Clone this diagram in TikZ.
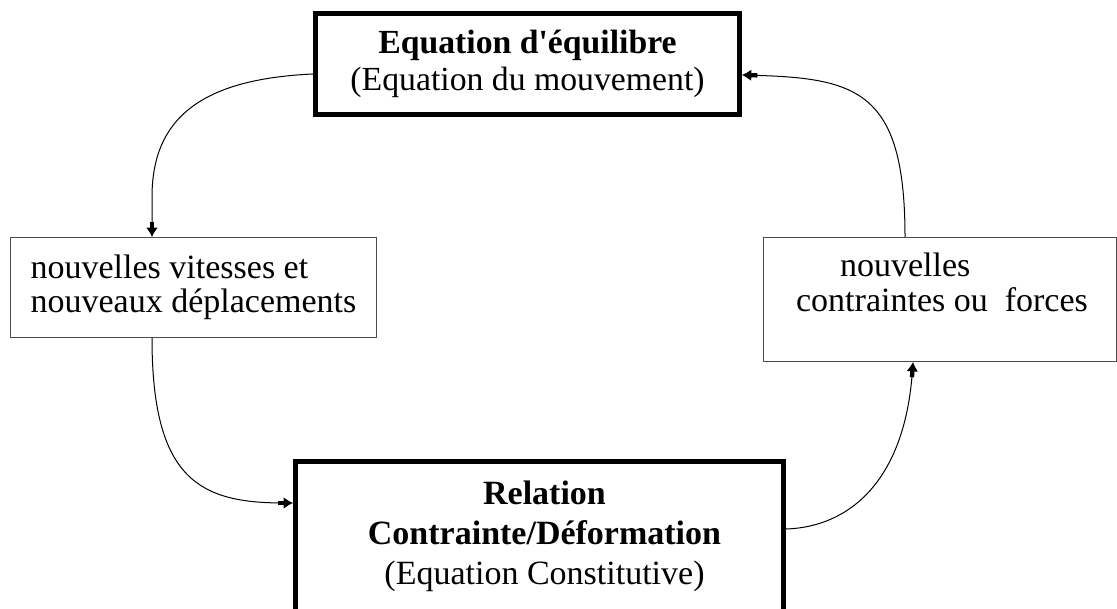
\documentclass[tikz,border=0pt]{standalone}
\usepackage{fontspec}
\setmainfont{Liberation Serif}
\usetikzlibrary{arrows.meta,calc}
\newcommand{\straightquote}{{\addfontfeatures{Ligatures=TeXOff}'}}
\begin{document}
\begin{tikzpicture}[x=0.75pt,y=-0.75pt,
  bigbox/.style={draw=black, line width=3.75pt, inner sep=0pt, align=center},
  smallbox/.style={draw=black!70, line width=0.75pt, inner sep=0pt},
  conn/.style={line width=0.75pt,
    -{Rectangle[length=6pt,width=3.2pt,sep=-1.5pt]Latex[length=7pt,width=8.5pt]}}]
\useasboundingbox (0,0) rectangle (1117,609);
\clip (0,0) rectangle (1117,609);

% nodes
\node[bigbox, minimum width=318pt, minimum height=75.75pt,
      font=\fontsize{25.3}{27.75}\selectfont] (eq) at (527.5,64)
  {\textbf{Equation d\straightquote équilibre}\\(Equation du mouvement)};
\node[smallbox, minimum width=274.5pt, minimum height=75pt, align=left,
      font=\fontsize{25.5}{25.5}\selectfont] (lv) at (193.5,287.5)
  {nouvelles vitesses et\\nouveaux déplacements};
\node[smallbox, minimum width=264.75pt, minimum height=93pt, align=left,
      font=\fontsize{25.5}{26.25}\selectfont] (cf) at (940,299.5)
  {\hspace*{36pt}nouvelles\\\hspace*{3pt}contraintes ou\ \ forces\\\mbox{}};
\node[bigbox, minimum width=366pt, minimum height=112.9pt,
      font=\fontsize{25.5}{30}\selectfont] (rc) at (539.5,536.75)
  {\hspace*{7.5pt}\textbf{Relation}\\\hspace*{7.5pt}\textbf{Contrainte/Déformation}\\\hspace*{7.5pt}(Equation Constitutive)};

% connectors
\draw[conn] ($(eq.west)+(0,10)$) .. controls +(-110,5) and +(0,-80) ..
  ($(lv.north)+(-41.5,-40)$) -- ($(lv.north)+(-41.5,0)$);
\draw[conn] ($(lv.south)+(-41.5,0)$) .. controls +(0,142) and +(-93,0) ..
  ($(rc.west)+(0,-33.75)$);
\draw[conn] ($(rc.east)+(0,-7.75)$) .. controls +(64,-2) and +(-8,118) ..
  ($(cf.south)+(-27,0)$);
\draw[conn] ($(cf.north)+(-35,0)$) .. controls +(0,-147) and +(115,3) ..
  ($(eq.east)+(0,11)$);
\end{tikzpicture}
\end{document}
